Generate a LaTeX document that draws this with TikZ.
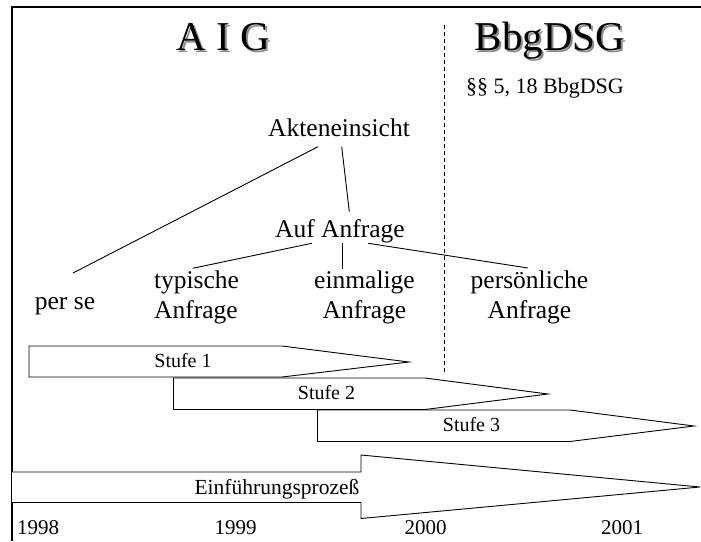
\documentclass[tikz,border=0pt]{standalone}
\usepackage{fontspec}
\setmainfont{Liberation Serif}
\begin{document}
\begin{tikzpicture}[x=1pt,y=-1pt,
  lbl/.style={inner sep=0pt,anchor=base,font=\fontsize{25.5}{30}\selectfont},
  small/.style={inner sep=0pt,anchor=base,font=\fontsize{20}{24}\selectfont},
  year/.style={inner sep=0pt,anchor=base,font=\fontsize{21}{25}\selectfont},
  ttl/.style={inner sep=0pt,anchor=base,font=\fontsize{41}{48}\selectfont},
  shade/.style={ttl,text=black!45},
  conn/.style={line width=0.9pt},
  band/.style={draw=black,fill=white,line width=0.9pt,line join=miter}]
\useasboundingbox (0,0) rectangle (701,541);

% outer frame, open to the right and bottom
\draw[line width=2.4pt] (12,541) |- (701,7);

% separator between the two laws
\draw[line width=0.8pt,dash pattern=on 4pt off 3pt] (444.5,25) -- (444.5,372);

% headings with drop shadow
\node[shade] at (225.5,52) {A I G};
\node[ttl] (aig) at (223.5,50) {A I G};
\node[shade] at (552,52) {BbgDSG};
\node[ttl] (bbg) at (550,50) {BbgDSG};
\node[small,font=\fontsize{22}{26}\selectfont] (para) at (545,93) {§§ 5, 18 BbgDSG};

% tree of access types
\node[lbl] (akt) at (339,136) {Akteneinsicht};
\node[lbl] (auf) at (340,237) {Auf Anfrage};
\node[lbl] (perse) at (65,309) {per se};
\node[lbl] (typ) at (196.5,288) {typische};
\node[lbl] (typb) at (196,318) {Anfrage};
\node[lbl] (ein) at (364.5,288) {einmalige};
\node[lbl] (einb) at (364.5,318) {Anfrage};
\node[lbl] (pers) at (529.5,288) {persönliche};
\node[lbl] (persb) at (529.5,318) {Anfrage};

\draw[conn] ([xshift=-21pt,yshift=-10.7pt]akt.base) -- ([xshift=8pt,yshift=36pt]perse.base);
\draw[conn] ([xshift=2.7pt,yshift=-10.7pt]akt.base) -- ([xshift=9.3pt,yshift=25.3pt]auf.base);
\draw[conn] ([xshift=-28.3pt,yshift=-6.3pt]auf.base) -- ([xshift=-3.8pt,yshift=19.7pt]typ.base);
\draw[conn] ([xshift=2.7pt,yshift=-6pt]auf.base) -- ([xshift=-21.8pt,yshift=19pt]ein.base);
\draw[conn] ([xshift=28.3pt,yshift=-6.3pt]auf.base) -- ([xshift=-1.5pt,yshift=20pt]pers.base);

% stages
\draw[band] (29,346) -- (282,346) -- (409,362) -- (282,377) -- (29,377) -- cycle;
\node[small] (s1) at (183,367) {Stufe 1};
\draw[band] (173.5,378) -- (425,378) -- (548,394) -- (425,409.5) -- (173.5,409.5) -- cycle;
\node[small] (s2) at (326.5,399) {Stufe 2};
\draw[band] (317.5,410) -- (570,410) -- (694,426) -- (570,441.5) -- (317.5,441.5) -- cycle;
\node[small] (s3) at (471.5,431.5) {Stufe 3};

% overall introduction process
\draw[band] (12,472) -- (361,472) -- (361,455) -- (700,487) -- (361,518.5) -- (361,502.5) -- (12,502.5);
\node[small,font=\fontsize{21.5}{26}\selectfont] (proc) at (277,494) {Einführungsprozeß};

% years
\node[year] (y98) at (38,534) {1998};
\node[year] (y99) at (235.5,534) {1999};
\node[year] (y00) at (425.5,534) {2000};
\node[year] (y01) at (622,534) {2001};
\end{tikzpicture}
\end{document}
